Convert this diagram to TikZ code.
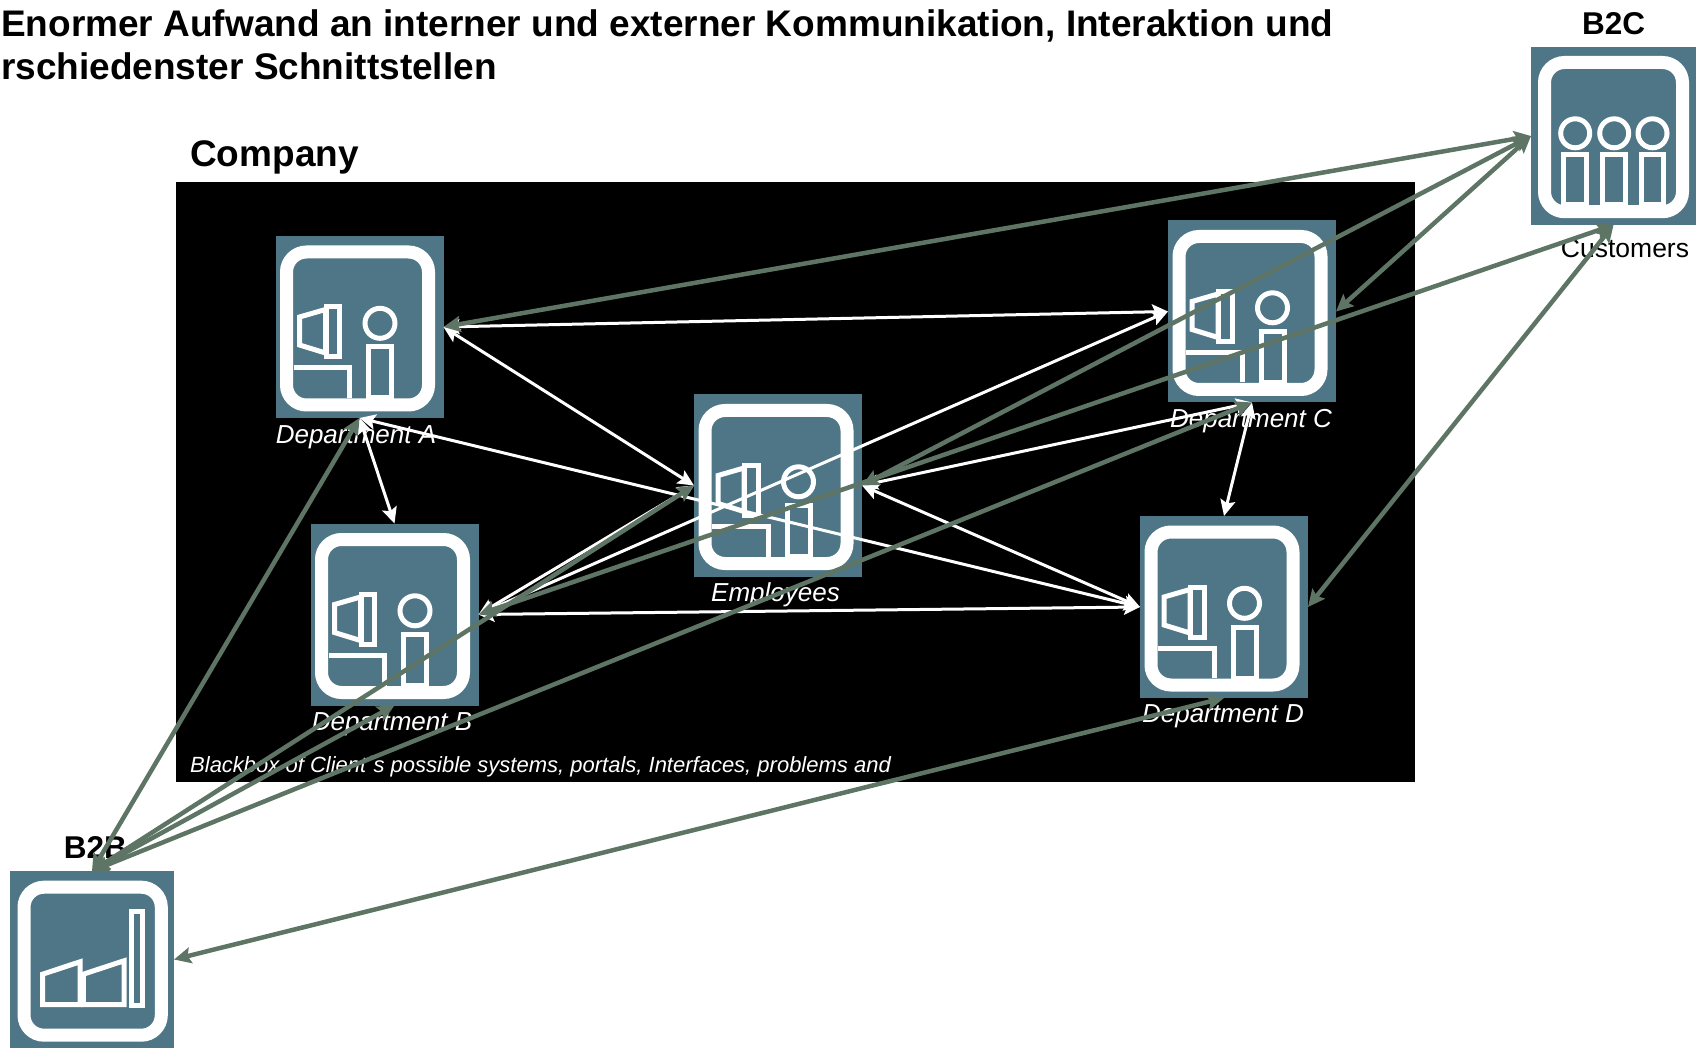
\documentclass[tikz,border=0pt]{standalone}
\usepackage{fontspec}
\setmainfont{Liberation Sans}
\usetikzlibrary{arrows.meta}
\definecolor{tilecol}{HTML}{4E7686}
\definecolor{linkcol}{HTML}{5E7565}
\tikzset{
    tile/.style={fill=tilecol, inner sep=0pt, outer sep=0pt, minimum width=168pt, minimum height=182pt}, % icon background
    frame/.style={draw=white, line width=13pt, rounded corners=20pt},
    glyph/.style={draw=white, line width=5pt},
    whitelink/.style={draw=white, line width=3pt, {Stealth[length=16pt,width=15pt,inset=3pt]}-{Stealth[length=16pt,width=15pt,inset=3pt]}},
    greenlink/.style={draw=linkcol, line width=4.5pt, {Stealth[length=17pt,width=16pt,inset=3pt]}-{Stealth[length=17pt,width=16pt,inset=3pt]}},
    headline/.style={font=\fontsize{37}{43}\selectfont\bfseries, inner sep=0pt},
    tag/.style={font=\fontsize{31.5}{36}\selectfont\bfseries, inner sep=0pt},
    deptlabel/.style={text=white, font=\fontsize{26}{30}\selectfont\itshape, inner sep=0pt},
    pics/dept/.style={code={
        \draw[frame] (-73,-75) rectangle (69,78);
        \draw[glyph] (-33.5,-20) rectangle (-20,30);
        \draw[glyph] (-60,-10) -- (-34,-17.5) -- (-34,26) -- (-60,18) -- cycle;
        \draw[glyph] (20.5,-3.7) circle (15);
        \draw[glyph] (9,20) rectangle (32,71);
        \draw[glyph] (-66,41) -- (-10,41) -- (-10,71);
    }},
    pics/people/.style={code={
        \draw[frame] (-69,-73.5) rectangle (69,75.7);
        \foreach \x in {-38.3,0.7,39} {
            \draw[glyph] (\x,-2.7) circle (14.5);
            \draw[glyph] (\x-11.3,19) rectangle (\x+11.3,69);
        }
    }},
    pics/factory/.style={code={
        \draw[frame] (-68,-72.3) rectangle (69.3,75.7);
        \draw[glyph] (39,-48.3) rectangle (50.7,45.7);
        \draw[glyph] (-49.3,14.7) -- (-12,2.3) -- (-12,45) -- (-49.3,45) -- cycle;
        \draw[glyph] (-8.7,14.7) -- (32,1.3) -- (32,45) -- (-8.7,45) -- cycle;
    }}
}

\begin{document}
\begin{tikzpicture}[x=1pt, y=-1pt]
    \useasboundingbox (0,0) rectangle (1698,1048);

    \node[headline, anchor=west, align=left] (title) at (1,44.5) {Enormer Aufwand an interner und externer Kommunikation, Interaktion und\\rschiedenster Schnittstellen};
    \node[headline, anchor=west] (company) at (190,157) {Company};
    \fill[black] (176,182) rectangle (1414.5,782);

    \node[tile] (deptA) at (359.5,327) {};
    \node[tile] (deptB) at (394.5,614.5) {};
    \node[tile] (deptC) at (1252,311.5) {};
    \node[tile] (deptD) at (1224,607) {};
    \node[tile] (staff) at (778,485.5) {};
    \node[tile, minimum width=165pt, minimum height=178pt] (btoc) at (1613.5,136) {};
    \node[tile, minimum width=164pt, minimum height=177pt] (btob) at (92,959.5) {};

    \foreach \n in {deptA,deptB,deptC,deptD,staff} {\pic at (\n) {dept};}
    \pic at (btoc) {people};
    \pic at (btob) {factory};

    \node[deptlabel] (labelA) at (356,437) {Department A};
    \node[deptlabel] (labelB) at (392,724) {Department B};
    \node[deptlabel] (labelC) at (1251,421) {Department C};
    \node[deptlabel] (labelD) at (1223,716) {Department D};
    \node[deptlabel] (labelS) at (775.5,595) {Employees};
    \node[deptlabel, anchor=west, font=\fontsize{22}{26}\selectfont\itshape] (blackbox) at (190,767) {Blackbox of Client´s possible systems, portals, Interfaces, problems and};
    \node[tag] (tagC) at (1613.5,24) {B2C};
    \node[tag] (tagB) at (95.5,847) {B2B};
    \node[inner sep=0pt, font=\fontsize{26.5}{30}\selectfont] (customers) at (1625,248) {Customers};

    % links inside the company
    \foreach \a/\b in {deptA.east/deptC.west, deptA.east/staff.west, deptA.south/deptB.north, deptA.south/deptD.west,
        deptB.east/staff.west, deptB.east/deptC.west, deptB.east/deptD.west,
        staff.east/deptC.south, staff.east/deptD.west, deptC.south/deptD.north} {\draw[whitelink] (\a) -- (\b);}

    % links to the outside
    \foreach \a/\b in {btoc.west/deptA.east, btoc.west/deptC.east, btoc.west/staff.east, btoc.south/deptB.east, btoc.south/deptD.east,
        btob.north/deptA.south, btob.north/deptB.south, btob.north/staff.west, btob.north/deptC.south, btob.east/deptD.south} {\draw[greenlink] (\a) -- (\b);}
\end{tikzpicture}
\end{document}
